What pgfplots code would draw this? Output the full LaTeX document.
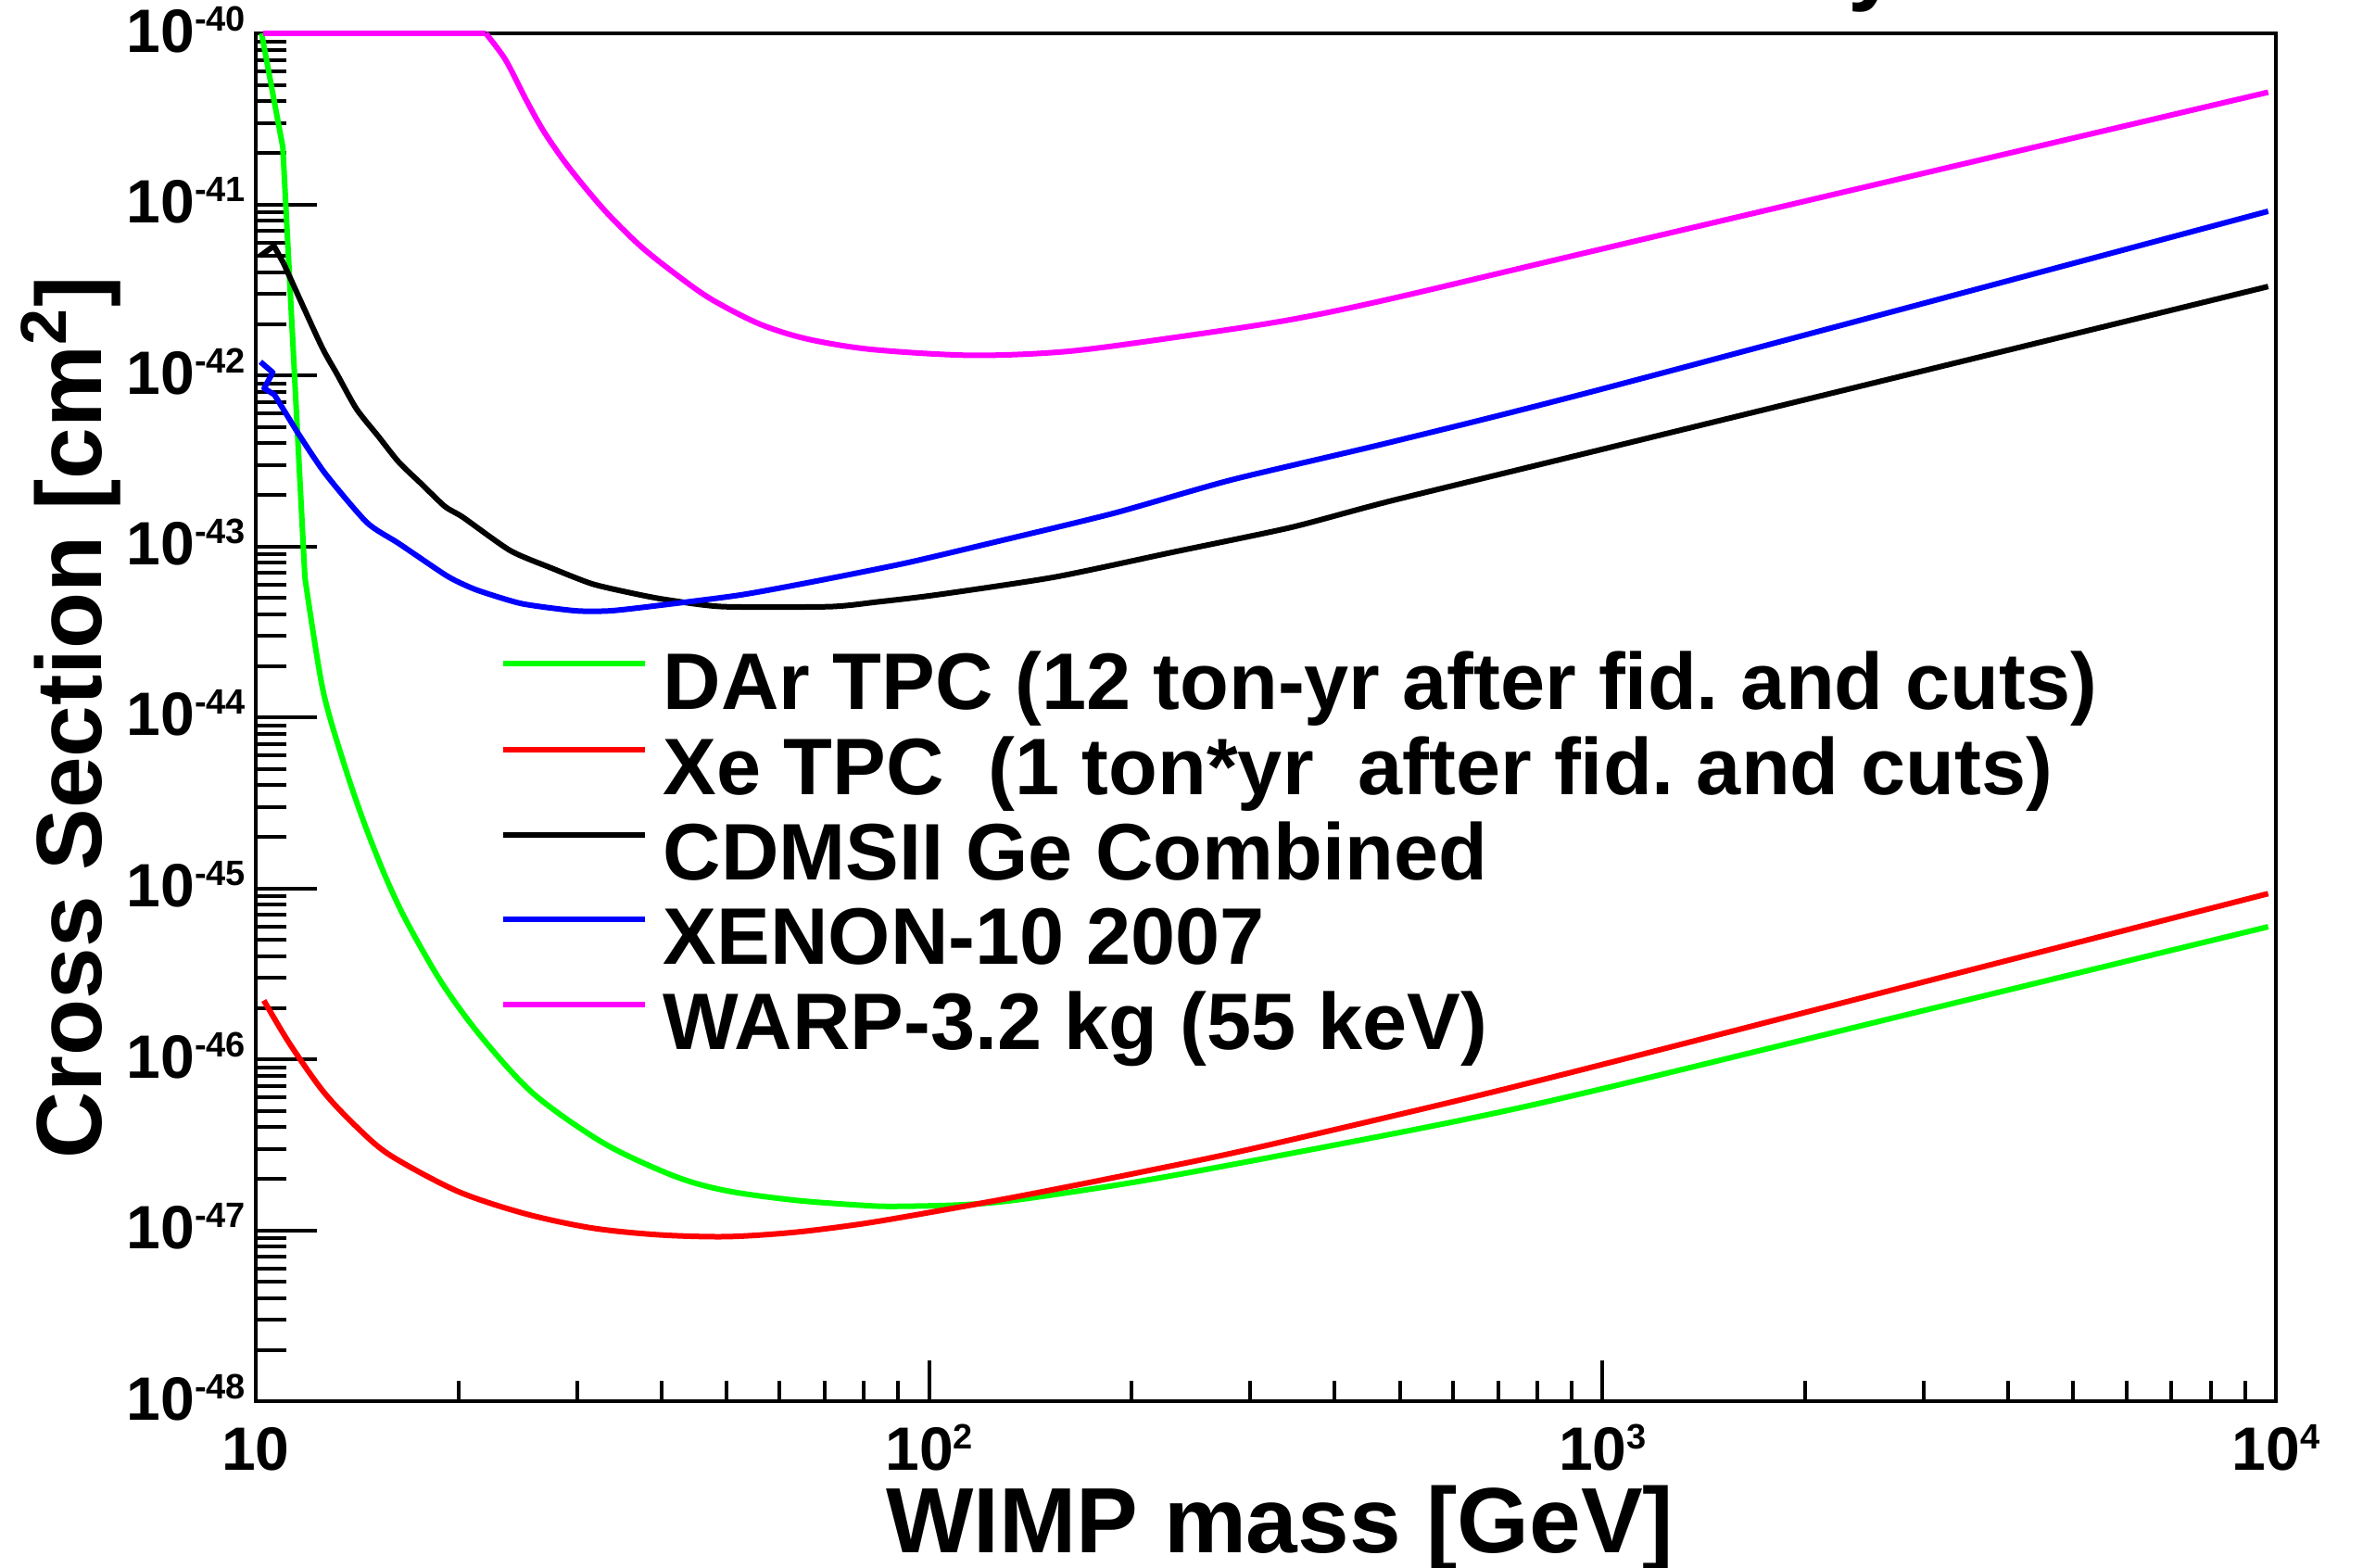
\documentclass[border=0pt]{standalone}
\usepackage{fontspec}
\setmainfont{Liberation Sans}
\usepackage{pgfplots}
\pgfplotsset{compat=1.18}

% ROOT-style power label: 10 with a small raised exponent
\newcommand\tl[1]{10\raisebox{4.6pt}{\fontsize{7.6}{7.6}\selectfont #1}}

\definecolor{dargreen}{RGB}{0,255,0}
\definecolor{xered}{RGB}{255,0,0}
\definecolor{xenonblue}{RGB}{0,0,255}
\definecolor{warpmag}{RGB}{255,0,255}

\begin{document}
\frenchspacing
\begin{tikzpicture}
\begin{axis}[
    name=ax,
    xmode=log, ymode=log,
    scale only axis, width=436pt, height=295.2pt,
    xmin=10, xmax=10000, ymin=1e-48, ymax=1e-40,
    clip=false,
    axis line style={line width=0.9pt},
    tick pos=left, tick align=inside,
    tick style={black, line width=0.8pt},
    major tick length=8.8pt, minor tick length=4.4pt,
    ytick style={/pgfplots/major tick length=13.2pt, /pgfplots/minor tick length=6.6pt},
    xtick={10,100,1000,10000},
    xticklabels={10,\tl{2},\tl{3},\tl{4}},
    ytick={1e-48,1e-47,1e-46,1e-45,1e-44,1e-43,1e-42,1e-41,1e-40},
    yticklabels={\tl{-48},\tl{-47},\tl{-46},\tl{-45},\tl{-44},\tl{-43},\tl{-42},\tl{-41},\tl{-40}},
    xticklabel style={font=\fontsize{13.2}{14}\selectfont\bfseries, anchor=north, inner sep=0pt, text height=9.5pt, text depth=0pt, yshift=-5.2pt},
    yticklabel style={font=\fontsize{13.2}{14}\selectfont\bfseries, anchor=east, inner sep=0pt, xshift=-2pt, yshift=0.9pt},
    xlabel={WIMP mass [GeV]},
    ylabel={Cross Section [cm\textsuperscript{2}]},
    xlabel style={font=\fontsize{20}{24}\selectfont\bfseries, at={(axis description cs:0.507,-0.1104)}, anchor=base},
    ylabel style={font=\fontsize{20}{24}\selectfont\bfseries, at={(axis description cs:-0.0765,0.5)}, anchor=base},
    legend cell align=left,
    legend style={draw=none, fill=none, at={(axis description cs:0.1211,0.5485)}, anchor=north west,
        inner sep=0pt, outer sep=0pt, row sep=2pt, column sep=3.4pt,
        font=\fontsize{17.3}{20}\selectfont\bfseries,
        nodes={inner sep=0pt, text height=12.5pt, text depth=3.9pt}},
    legend image code/.code={\draw[#1, line width=1.2pt] (0pt,5.4pt) -- (30.6pt,5.4pt);},
    every axis plot/.append style={line width=1.2pt, line join=round},
]
% DAr TPC: steep start, then smooth
\addplot[dargreen, forget plot] coordinates {
    (10.2,1e-40) (10.97,2.16e-41) (11.83,6.59e-44)
};
\addplot[dargreen, smooth, tension=0.5] coordinates {
    (11.83,6.59e-44) (12.57,1.47e-44) (13.51,5.41e-45)
    (14.45,2.48e-45) (15.54,1.20e-45) (16.71,6.52e-46) (18.87,2.82e-46) (21.57,1.37e-46)
    (25.87,6.27e-47) (32.96,3.21e-47) (42.03,2.06e-47) (50.12,1.70e-47) (63.1,1.50e-47)
    (79.43,1.40e-47) (89.1,1.38e-47) (112.2,1.41e-47) (135.8,1.51e-47) (200,1.90e-47)
    (298.8,2.53e-47) (604,4.33e-47) (1000,6.73e-47) (3000,1.93e-46) (9740,5.96e-46)
};
\addlegendentry{DAr TPC (12 ton-yr after fid. and cuts)}
% Xe TPC
\addplot[xered, smooth, tension=0.5] coordinates {
    (10.28,2.21e-46) (11.22,1.24e-46) (12.59,6.50e-47) (14.13,4.01e-47) (15.85,2.74e-47)
    (19.95,1.69e-47) (25.12,1.25e-47) (31.62,1.03e-47) (39.81,9.40e-48) (50.12,9.18e-48)
    (63.10,9.73e-48) (79.43,1.09e-47) (100,1.27e-47) (135.8,1.58e-47) (199.5,2.13e-47)
    (298.5,2.97e-47) (604,5.69e-47) (1000,9.33e-47) (3162,2.99e-46) (9740,9.31e-46)
};
\addlegendentry{Xe TPC\ \ (1 ton*yr\ \ after fid. and cuts)}
% CDMSII Ge combined: small spike at start, then smooth
\addplot[black, forget plot] coordinates {
    (10.16,5.0e-42) (10.64,5.73e-42) (11.0,4.52e-42)
};
\addplot[black, smooth, tension=0.4] coordinates {
    (11.0,4.52e-42) (12.49,1.51e-42) (13.2,1.02e-42)
    (14.11,6.37e-43) (15.2,4.41e-43) (16.31,3.11e-43) (17.6,2.33e-43) (19.10,1.71e-43)
    (20.31,1.48e-43) (23.88,9.44e-44) (27.53,7.45e-44) (31.7,6.01e-44) (37.26,5.2e-44)
    (41.23,4.84e-44) (49.45,4.44e-44) (71.2,4.44e-44) (83.7,4.73e-44) (102.4,5.2e-44)
    (153.5,6.61e-44) (229.9,9.24e-44) (344.4,1.29e-43) (483.8,1.84e-43) (1000,3.70e-43)
    (9740,3.31e-42)
};
\addlegendentry{CDMSII Ge Combined}
% XENON-10 2007: zig-zag at start, then smooth
\addplot[xenonblue, forget plot] coordinates {
    (10.16,1.20e-42) (10.60,1.04e-42) (10.29,8.4e-43) (10.66,7.71e-43) (11.48,4.78e-43)
};
\addplot[xenonblue, smooth, tension=0.4] coordinates {
    (11.48,4.78e-43)
    (12.65,2.70e-43) (14.62,1.38e-43) (16.31,1.04e-43) (19.10,6.83e-44) (20.31,6.01e-44)
    (21.59,5.45e-44) (24.86,4.62e-44) (29.83,4.2e-44) (33.67,4.2e-44) (39.61,4.51e-44)
    (52.53,5.2e-44) (68.33,6.29e-44) (92.5,8.0e-44) (125.3,1.06e-43) (187.8,1.56e-43)
    (281.4,2.45e-43) (483.8,4.06e-43) (1000,8.34e-43) (9740,9.12e-42)
};
\addlegendentry{XENON-10 2007}
% WARP 3.2 kg: flat at the top of the frame, then smooth
\addplot[warpmag, forget plot] coordinates {
    (10.26,1e-40) (21.96,1e-40)
};
\addplot[warpmag, smooth, tension=0.5] coordinates {
    (21.96,1e-40) (23.48,7.03e-41) (25.23,4.06e-41) (26.83,2.64e-41)
    (29.20,1.64e-41) (32.96,9.24e-42) (37.23,5.73e-42) (42.0,3.92e-42) (47.4,2.80e-42)
    (55.8,2.01e-42) (65.6,1.64e-42) (81.9,1.42e-42) (115.6,1.31e-42) (160,1.38e-42)
    (229.7,1.66e-42) (340,2.10e-42) (483.8,2.80e-42) (1000,5.5e-42) (9740,4.53e-41)
};
\addlegendentry{WARP-3.2 kg (55 keV)}
\end{axis}
% descender of the clipped title above the frame
\node[font=\fontsize{20}{24}\selectfont\bfseries, anchor=base] at ([shift={(349.2pt,8.6pt)}]ax.north west) {y};
\pgfresetboundingbox
\path[use as bounding box] ([shift={(-55.2pt,-36pt)}]ax.south west) rectangle ([shift={(18.8pt,7.2pt)}]ax.north east);
\end{tikzpicture}
\end{document}
